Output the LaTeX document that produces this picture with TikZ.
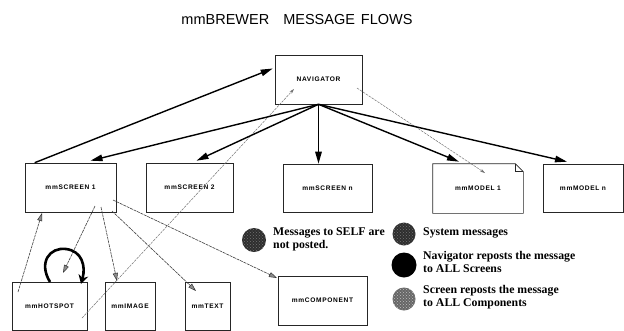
\documentclass[tikz,border=0pt]{standalone}
\usepackage{fontspec}
\setmainfont{Liberation Serif}
\setsansfont{Liberation Sans}
\newfontfamily\boxfont[LetterSpace=10]{Liberation Sans}
\usetikzlibrary{arrows.meta,calc,patterns}
\begin{document}
\begin{tikzpicture}[x=1pt,y=-1pt,
  box/.style={draw=black!85,line width=0.6pt,fill=white,inner sep=0pt,font=\boxfont\bfseries\fontsize{6.6}{8}\selectfont},
  navarrow/.style={line width=1.4pt,-{Triangle[length=12pt,width=6.5pt]}},
  sysline/.style={draw=black!55,line width=0.5pt,dash pattern=on 2.5pt off 1pt,-{Stealth[length=5pt,width=3pt]}},
  scrarrow/.style={draw=black!75,line width=0.6pt,dash pattern=on 3pt off 0.8pt,-{Triangle[length=8pt,width=5pt,fill=black!45,color=black!80,line width=0.5pt]}},
  selfloop/.style={line width=2.6pt,-{Stealth[length=9pt,width=10pt,inset=3pt]}},
  legtext/.style={anchor=west,align=left,font=\bfseries\fontsize{11.8}{12.5}\selectfont,inner sep=0pt},
  legdot/.style={circle,inner sep=0pt,minimum size=#1},
  texture/.style={postaction={pattern=crosshatch dots,pattern color=#1}},
]
\useasboundingbox (0,0) rectangle (624,330);

% title
\node[font=\sffamily\fontsize{14.5}{16}\selectfont] (title) at (297,20) {mmBREWER\hspace{14pt}MESSAGE\hspace{6pt}FLOWS};

% boxes
\node[box,minimum width=87pt,minimum height=49pt] (nav) at (318.5,79.5) {NAVIGATOR};
\node[box,minimum width=91pt,minimum height=49pt] (s1) at (70.5,187.5) {mmSCREEN 1};
\node[box,minimum width=87pt,minimum height=49pt] (s2) at (189.5,187.5) {mmSCREEN 2};
\node[box,minimum width=89pt,minimum height=48pt] (sn) at (327.5,188) {mmSCREEN n};
\node[box,draw=none,fill=none,minimum width=90pt,minimum height=49pt] (m1) at (478,188.5) {mmMODEL 1};
\node[box,minimum width=80pt,minimum height=48pt] (mn) at (583,188) {mmMODEL n};
\node[box,minimum width=75pt,minimum height=48pt] (hot) at (49.5,306) {mmHOTSPOT};
\node[box,minimum width=50pt,minimum height=48pt] (img) at (130,306) {mmIMAGE};
\node[box,minimum width=45pt,minimum height=48pt] (txt) at (207.5,306) {mmTEXT};
\node[box,minimum width=89pt,minimum height=49pt] (comp) at (322.5,300.5) {mmCOMPONENT};

% folded-corner outline of mmMODEL 1
\draw[draw=black!85,line width=0.6pt]
  (m1.south west) -- (m1.north west) -- ([xshift=-8pt]m1.north east)
  -- ([yshift=-8pt]m1.north east) -- (m1.south east) -- cycle;
\draw[draw=black!85,line width=0.5pt]
  ([xshift=-8pt]m1.north east) -- ([xshift=-8pt,yshift=-8pt]m1.north east) -- ([yshift=-8pt]m1.north east);

% free-end coordinates
\coordinate (hotA) at (82,318);
\coordinate (navA) at (294,89);
\coordinate (navB) at (357,88);
\coordinate (m1A) at (485,173);
\coordinate (hotB) at (18,292);
\coordinate (s1A) at (42,213);
\coordinate (s1B) at (95,206);
\coordinate (hotC) at (63,273);
\coordinate (s1C) at (101,207);
\coordinate (imgA) at (117,281);
\coordinate (s1D) at (112,211);
\coordinate (txtA) at (196,291);
\coordinate (s1E) at (113,200);
\coordinate (compA) at (277,278);
\coordinate (loopA) at (50,282);
\coordinate (loopB) at (81,284);

% system message lines
\draw[sysline] (hotA) -- (navA);
\draw[sysline] (navB) -- (m1A);

% navigator reposts
\draw[navarrow] ([xshift=10pt]s1.north west) -- ([xshift=-2pt,yshift=11pt]nav.west);
\draw[navarrow] (nav.south) -- ([xshift=20pt,yshift=2pt]s1.north);
\draw[navarrow] (nav.south) -- ([xshift=7pt,yshift=2pt]s2.north);
\draw[navarrow] (nav.south) -- (nav.south |- sn.north);
\draw[navarrow] (nav.south) -- ([xshift=-19pt,yshift=2pt]m1.north);
\draw[navarrow] (nav.south) -- ([xshift=-16pt,yshift=2pt]mn.north);

% screen reposts
\draw[scrarrow] (hotB) -- (s1A);
\draw[scrarrow] (s1B) -- (hotC);
\draw[scrarrow] (s1C) -- (imgA);
\draw[scrarrow] (s1D) -- (txtA);
\draw[scrarrow] (s1E) -- (compA);

% message to self
\draw[selfloop] (loopA) .. controls (38,262) and (50,247) .. (66,249)
  .. controls (82,251) and (86,266) .. (loopB);

% legend
\node[legdot=24pt,fill=black!82,texture=black!55] (cself) at (254,240) {};
\node[legtext] (tself) at (273,239.5) {Messages to SELF are\\not posted.};
\node[legdot=23pt,fill=black!82,texture=black!55] (csys) at (404,234) {};
\node[legtext] (tsys) at (423,233) {System messages};
\node[legdot=25pt,fill=black] (cnav) at (404,265) {};
\node[legtext] (tnav) at (423,262) {Navigator reposts the message\\to ALL Screens};
\node[legdot=23pt,fill=black!60,texture=black!25] (cscr) at (404,299) {};
\node[legtext] (tscr) at (423,297) {Screen reposts the message\\to ALL Components};
\end{tikzpicture}
\end{document}
